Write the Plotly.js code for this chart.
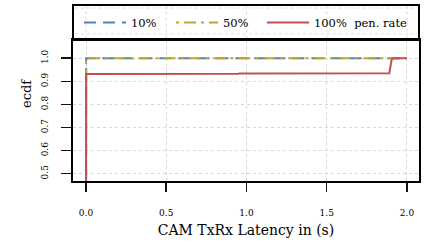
<!DOCTYPE html>
<html>
<head>
<meta charset="utf-8">
<script src="https://cdn.plot.ly/plotly-3.0.1.min.js"></script>
<style>html,body{margin:0;padding:0;background:#fff;}#chart{width:426px;height:243px;}</style>
</head>
<body>
<div id="chart"></div>
<script>
// Series: ECDF of CAM TxRx latency per penetration rate
var seriesNames = ["10%", "50%", "100%\u00a0\u00a0pen. rate"];
var x10 = [0, 0, 0.001, 2.0];
var y10 = [0, 0.0, 1.0, 1.0];
var x50 = [0, 0, 0.001, 2.0];
var y50 = [0, 0.0, 1.0, 1.0];
var x100 = [0, 0, 0.001, 0.95, 0.955, 1.89, 1.905, 1.92, 2.0];
var y100 = [0, 0.0, 0.932, 0.933, 0.934, 0.935, 0.996, 1.0, 1.0];
var xTicks = [0, 0.5, 1.0, 1.5, 2.0];
var xTickText = ["0.0", "0.5", "1.0", "1.5", "2.0"];
var yTicks = [0.5, 0.6, 0.7, 0.8, 0.9, 1.0];
var yTickText = ["0.5", "0.6", "0.7", "0.8", "0.9", "1.0"];

var colors = ["#4f81bd", "#bda535", "#c0504d"];
var dashes = ["12px,7px", "3px,5px,12px,5px", "solid"];
var legendIds = ["legend", "legend2", "legend3"];
var legendX = [0.0173, 0.2832, 0.5462];
var serif = "DejaVu Serif";

var traces = [
  {x: x10, y: y10, name: seriesNames[0]},
  {x: x50, y: y50, name: seriesNames[1]},
  {x: x100, y: y100, name: seriesNames[2]}
].map(function (t, i) {
  t.type = "scatter";
  t.mode = "lines";
  t.line = {color: colors[i], width: 2, dash: dashes[i]};
  t.hoverinfo = "skip";
  t.legend = legendIds[i];
  return t;
});

var shapes = [
  {type: "rect", xref: "paper", yref: "paper", x0: 0, x1: 1, y0: 1, y1: 1.248,
   line: {color: "#000", width: 2}, fillcolor: "rgba(0,0,0,0)"}
];
xTicks.forEach(function (v) {
  shapes.push({type: "line", xref: "x", yref: "paper", x0: v, x1: v, y0: 1.01, y1: 1.24,
    line: {color: "#dcdcdc", width: 1, dash: "dot"}, layer: "below"});
});
[1.043, 1.227].forEach(function (v) {
  shapes.push({type: "line", xref: "paper", yref: "paper", x0: 0.005, x1: 0.995, y0: v, y1: v,
    line: {color: "#dcdcdc", width: 1, dash: "dot"}, layer: "below"});
});

var layout = {
  width: 426, height: 243,
  margin: {l: 73, r: 7, t: 40, b: 62},
  paper_bgcolor: "#fff", plot_bgcolor: "#fff",
  font: {family: serif, color: "#000", size: 9},
  showlegend: true,
  xaxis: {
    range: [-0.081, 2.075], tickvals: xTicks, ticktext: xTickText,
    showline: true, mirror: true, linecolor: "#000", linewidth: 2,
    ticks: "outside", ticklen: 9, tickwidth: 1.5, tickcolor: "#111",
    ticklabelstandoff: 13,
    showgrid: true, gridcolor: "#d8d8d8", griddash: "dot", gridwidth: 1,
    zeroline: false,
    tickfont: {family: serif, size: 9},
    title: {text: "CAM TxRx Latency in (s)", font: {family: serif, size: 14}, standoff: 8}
  },
  yaxis: {
    range: [0.468, 1.079], tickvals: yTicks, ticktext: yTickText, tickangle: -90,
    showline: true, mirror: true, linecolor: "#000", linewidth: 2,
    ticks: "outside", ticklen: 10, tickwidth: 1.5, tickcolor: "#111",
    ticklabelstandoff: 9,
    showgrid: true, gridcolor: "#d8d8d8", griddash: "dot", gridwidth: 1,
    zeroline: false,
    tickfont: {family: serif, size: 9}
  },
  shapes: shapes,
  annotations: [
    {text: "ecdf", xref: "paper", yref: "paper", x: -0.136, y: 0.624, textangle: -90,
     showarrow: false, xanchor: "center", yanchor: "middle",
     font: {family: serif, size: 13, color: "#000"}}
  ]
};
legendIds.forEach(function (id, i) {
  layout[id] = {
    orientation: "h", x: legendX[i], xanchor: "left", y: 1.125, yanchor: "middle",
    font: {family: serif, size: 11.5, color: "#000"},
    bgcolor: "rgba(0,0,0,0)", borderwidth: 0, itemwidth: 42
  };
});

Plotly.newPlot("chart", traces, layout, {displayModeBar: false, staticPlot: true});
</script>
</body>
</html>
